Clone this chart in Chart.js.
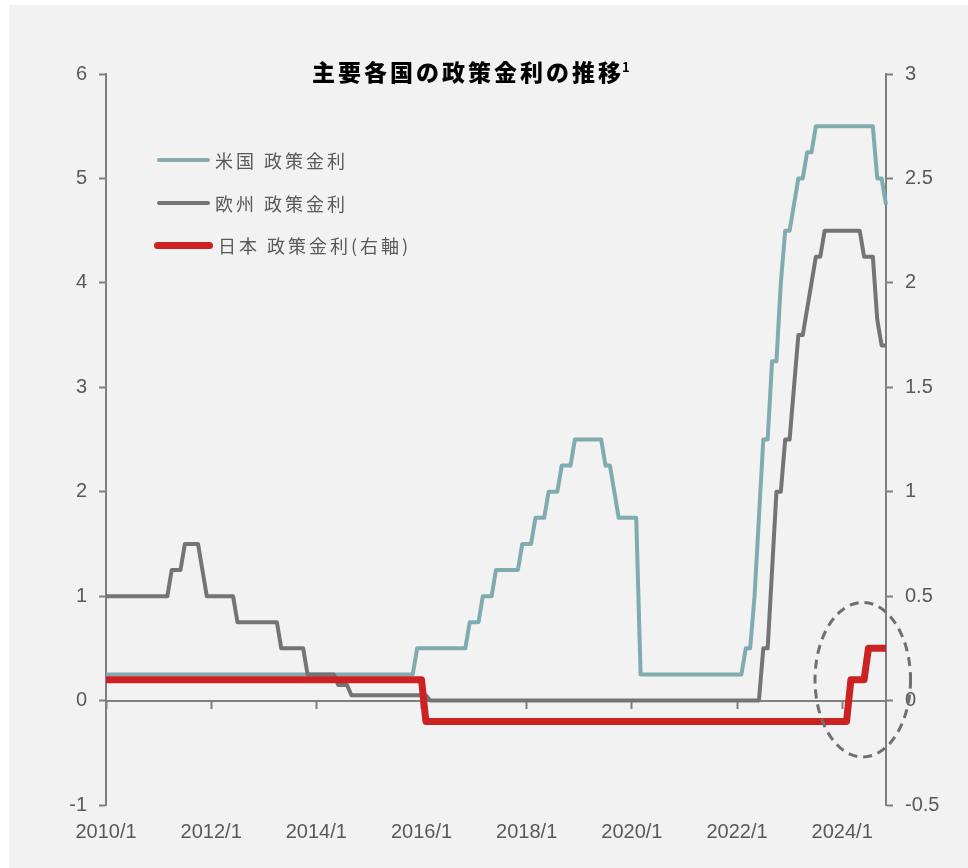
<!DOCTYPE html>
<html lang="ja">
<head>
<meta charset="utf-8">
<script src="https://cdn.jsdelivr.net/npm/chart.js@4.4.1/dist/chart.umd.min.js"></script>
<style>
  html, body { margin: 0; padding: 0; background: #fff; }
  #wrap { position: relative; width: 968px; height: 868px; overflow: hidden; }
  #panel { position: absolute; left: 9px; top: 5px; right: 0; bottom: 0; background: #f2f2f2; }
  #chart { position: absolute; left: 0; top: 0; }
  #title { position: absolute; left: 312px; top: 54px; font: 900 23px "Noto Sans CJK JP"; letter-spacing: 3px; color: #000; white-space: nowrap; }
  #title sup { font-size: 13px; font-weight: 700; letter-spacing: 0; vertical-align: 9px; line-height: 0; margin-left: -2px; }
  #legend { position: absolute; left: 154px; top: 139px; font: 18px "Noto Sans CJK JP"; color: #595959; letter-spacing: 3px; }
  .row { display: flex; align-items: center; height: 42.5px; white-space: nowrap; }
  .swatch { border-radius: 4px; margin-right: 5px; }
</style>
</head>
<body>
<div id="wrap">
  <div id="panel"></div>
  <canvas id="chart" width="968" height="868"></canvas>
  <div id="title">主要各国の政策金利の推移<sup>1</sup></div>
  <div id="legend"></div>
</div>
<script>
// monthly labels, 2010/1 .. 2024/11
const months = [
  "2010/1","2010/2","2010/3","2010/4","2010/5","2010/6","2010/7","2010/8","2010/9","2010/10","2010/11","2010/12",
  "2011/1","2011/2","2011/3","2011/4","2011/5","2011/6","2011/7","2011/8","2011/9","2011/10","2011/11","2011/12",
  "2012/1","2012/2","2012/3","2012/4","2012/5","2012/6","2012/7","2012/8","2012/9","2012/10","2012/11","2012/12",
  "2013/1","2013/2","2013/3","2013/4","2013/5","2013/6","2013/7","2013/8","2013/9","2013/10","2013/11","2013/12",
  "2014/1","2014/2","2014/3","2014/4","2014/5","2014/6","2014/7","2014/8","2014/9","2014/10","2014/11","2014/12",
  "2015/1","2015/2","2015/3","2015/4","2015/5","2015/6","2015/7","2015/8","2015/9","2015/10","2015/11","2015/12",
  "2016/1","2016/2","2016/3","2016/4","2016/5","2016/6","2016/7","2016/8","2016/9","2016/10","2016/11","2016/12",
  "2017/1","2017/2","2017/3","2017/4","2017/5","2017/6","2017/7","2017/8","2017/9","2017/10","2017/11","2017/12",
  "2018/1","2018/2","2018/3","2018/4","2018/5","2018/6","2018/7","2018/8","2018/9","2018/10","2018/11","2018/12",
  "2019/1","2019/2","2019/3","2019/4","2019/5","2019/6","2019/7","2019/8","2019/9","2019/10","2019/11","2019/12",
  "2020/1","2020/2","2020/3","2020/4","2020/5","2020/6","2020/7","2020/8","2020/9","2020/10","2020/11","2020/12",
  "2021/1","2021/2","2021/3","2021/4","2021/5","2021/6","2021/7","2021/8","2021/9","2021/10","2021/11","2021/12",
  "2022/1","2022/2","2022/3","2022/4","2022/5","2022/6","2022/7","2022/8","2022/9","2022/10","2022/11","2022/12",
  "2023/1","2023/2","2023/3","2023/4","2023/5","2023/6","2023/7","2023/8","2023/9","2023/10","2023/11","2023/12",
  "2024/1","2024/2","2024/3","2024/4","2024/5","2024/6","2024/7","2024/8","2024/9","2024/10","2024/11"
];

const usRate = [
  0.25,0.25,0.25,0.25,0.25,0.25,0.25,0.25,0.25,0.25,0.25,0.25,
  0.25,0.25,0.25,0.25,0.25,0.25,0.25,0.25,0.25,0.25,0.25,0.25,
  0.25,0.25,0.25,0.25,0.25,0.25,0.25,0.25,0.25,0.25,0.25,0.25,
  0.25,0.25,0.25,0.25,0.25,0.25,0.25,0.25,0.25,0.25,0.25,0.25,
  0.25,0.25,0.25,0.25,0.25,0.25,0.25,0.25,0.25,0.25,0.25,0.25,
  0.25,0.25,0.25,0.25,0.25,0.25,0.25,0.25,0.25,0.25,0.25,0.5,
  0.5,0.5,0.5,0.5,0.5,0.5,0.5,0.5,0.5,0.5,0.5,0.75,
  0.75,0.75,1.0,1.0,1.0,1.25,1.25,1.25,1.25,1.25,1.25,1.5,
  1.5,1.5,1.75,1.75,1.75,2.0,2.0,2.0,2.25,2.25,2.25,2.5,
  2.5,2.5,2.5,2.5,2.5,2.5,2.25,2.25,2.0,1.75,1.75,1.75,
  1.75,1.75,0.25,0.25,0.25,0.25,0.25,0.25,0.25,0.25,0.25,0.25,
  0.25,0.25,0.25,0.25,0.25,0.25,0.25,0.25,0.25,0.25,0.25,0.25,
  0.25,0.25,0.5,0.5,1.0,1.75,2.5,2.5,3.25,3.25,4.0,4.5,
  4.5,4.75,5.0,5.0,5.25,5.25,5.5,5.5,5.5,5.5,5.5,5.5,
  5.5,5.5,5.5,5.5,5.5,5.5,5.5,5.5,5.0,5.0,4.75
];

const euRate = [
  1.0,1.0,1.0,1.0,1.0,1.0,1.0,1.0,1.0,1.0,1.0,1.0,
  1.0,1.0,1.0,1.25,1.25,1.25,1.5,1.5,1.5,1.5,1.25,1.0,
  1.0,1.0,1.0,1.0,1.0,1.0,0.75,0.75,0.75,0.75,0.75,0.75,
  0.75,0.75,0.75,0.75,0.5,0.5,0.5,0.5,0.5,0.5,0.25,0.25,
  0.25,0.25,0.25,0.25,0.25,0.15,0.15,0.15,0.05,0.05,0.05,0.05,
  0.05,0.05,0.05,0.05,0.05,0.05,0.05,0.05,0.05,0.05,0.05,0.05,
  0.05,0.05,0,0,0,0,0,0,0,0,0,0,
  0,0,0,0,0,0,0,0,0,0,0,0,
  0,0,0,0,0,0,0,0,0,0,0,0,
  0,0,0,0,0,0,0,0,0,0,0,0,
  0,0,0,0,0,0,0,0,0,0,0,0,
  0,0,0,0,0,0,0,0,0,0,0,0,
  0,0,0,0,0,0,0.5,0.5,1.25,2.0,2.0,2.5,
  2.5,3.0,3.5,3.5,3.75,4.0,4.25,4.25,4.5,4.5,4.5,4.5,
  4.5,4.5,4.5,4.5,4.5,4.25,4.25,4.25,3.65,3.4,3.4
];

// right axis
const jpRate = [
  0.1,0.1,0.1,0.1,0.1,0.1,0.1,0.1,0.1,0.1,0.1,0.1,
  0.1,0.1,0.1,0.1,0.1,0.1,0.1,0.1,0.1,0.1,0.1,0.1,
  0.1,0.1,0.1,0.1,0.1,0.1,0.1,0.1,0.1,0.1,0.1,0.1,
  0.1,0.1,0.1,0.1,0.1,0.1,0.1,0.1,0.1,0.1,0.1,0.1,
  0.1,0.1,0.1,0.1,0.1,0.1,0.1,0.1,0.1,0.1,0.1,0.1,
  0.1,0.1,0.1,0.1,0.1,0.1,0.1,0.1,0.1,0.1,0.1,0.1,
  0.1,-0.1,-0.1,-0.1,-0.1,-0.1,-0.1,-0.1,-0.1,-0.1,-0.1,-0.1,
  -0.1,-0.1,-0.1,-0.1,-0.1,-0.1,-0.1,-0.1,-0.1,-0.1,-0.1,-0.1,
  -0.1,-0.1,-0.1,-0.1,-0.1,-0.1,-0.1,-0.1,-0.1,-0.1,-0.1,-0.1,
  -0.1,-0.1,-0.1,-0.1,-0.1,-0.1,-0.1,-0.1,-0.1,-0.1,-0.1,-0.1,
  -0.1,-0.1,-0.1,-0.1,-0.1,-0.1,-0.1,-0.1,-0.1,-0.1,-0.1,-0.1,
  -0.1,-0.1,-0.1,-0.1,-0.1,-0.1,-0.1,-0.1,-0.1,-0.1,-0.1,-0.1,
  -0.1,-0.1,-0.1,-0.1,-0.1,-0.1,-0.1,-0.1,-0.1,-0.1,-0.1,-0.1,
  -0.1,-0.1,-0.1,-0.1,-0.1,-0.1,-0.1,-0.1,-0.1,-0.1,-0.1,-0.1,
  -0.1,-0.1,0.1,0.1,0.1,0.1,0.25,0.25,0.25,0.25,0.25
];

const seriesNames = ["米国 政策金利", "欧州 政策金利", "日本 政策金利(右軸)"];

// dashed circle around the recent Japanese hikes (month index / right axis units)
const highlight = { from: 161.8, to: 183.6, low: -0.27, high: 0.47 };

const axisColor = "#7f7f7f";
const tickFont = { family: "Liberation Sans, Arial", size: 20 };

const highlightPlugin = {
  id: "highlight",
  afterDatasetsDraw(chart) {
    const { ctx, scales } = chart;
    const x0 = scales.x.getPixelForValue(highlight.from);
    const x1 = scales.x.getPixelForValue(highlight.to);
    const y0 = scales.y1.getPixelForValue(highlight.high);
    const y1 = scales.y1.getPixelForValue(highlight.low);
    ctx.save();
    ctx.beginPath();
    ctx.ellipse((x0 + x1) / 2, (y0 + y1) / 2, (x1 - x0) / 2, (y1 - y0) / 2, 0, 0, Math.PI * 2);
    ctx.strokeStyle = "#6f6f6f";
    ctx.lineWidth = 3;
    ctx.setLineDash([9, 6]);
    ctx.stroke();
    ctx.restore();
  }
};

const chart = new Chart(document.getElementById("chart"), {
  type: "line",
  data: {
    labels: months,
    datasets: [
      { label: seriesNames[0], data: usRate, yAxisID: "y", borderColor: "#7fabb1", borderWidth: 4, order: 2 },
      { label: seriesNames[1], data: euRate, yAxisID: "y", borderColor: "#747474", borderWidth: 4, order: 1 },
      { label: seriesNames[2], data: jpRate, yAxisID: "y1", borderColor: "#cc2222", borderWidth: 7, order: 0 },
    ],
  },
  options: {
    responsive: false,
    animation: false,
    layout: { padding: { top: 74, left: 0, right: 0, bottom: 0 } },
    elements: { point: { radius: 0 }, line: { tension: 0, borderJoinStyle: "round" } },
    plugins: { legend: { display: false }, tooltip: { enabled: false }, title: { display: false } },
    scales: {
      x: {
        type: "category",
        position: { y: 0 },
        ticks: { display: false },
        grid: {
          drawOnChartArea: false,
          tickLength: 7,
          tickWidth: 2,
          color: (c) => (c.index % 24 === 0 ? axisColor : "rgba(0,0,0,0)"),
        },
        border: { color: axisColor, width: 2 },
        afterFit: (s) => { s.height = 0; },
      },
      x2: {
        type: "category",
        position: "bottom",
        grid: { display: false, drawTicks: false },
        border: { display: false },
        ticks: {
          autoSkip: false,
          maxRotation: 0,
          minRotation: 0,
          padding: 15,
          color: "#595959",
          font: tickFont,
          callback: function (v, i) { return i % 24 === 0 ? this.getLabelForValue(v) : ""; },
        },
        afterFit: (s) => { s.height = 63; },
      },
      y: {
        position: "left",
        min: -1,
        max: 6,
        ticks: { stepSize: 1, padding: 12, color: "#595959", font: tickFont },
        grid: { drawOnChartArea: false, tickLength: 7, tickWidth: 2, color: axisColor },
        border: { color: axisColor, width: 2 },
        afterFit: (s) => { s.width = 106; },
      },
      y1: {
        position: "right",
        min: -0.5,
        max: 3,
        ticks: { stepSize: 0.5, padding: 12, color: "#595959", font: tickFont, callback: (v) => String(v) },
        grid: { drawOnChartArea: false, tickLength: 7, tickWidth: 2, color: axisColor },
        border: { color: axisColor, width: 2 },
        afterFit: (s) => { s.width = 82; },
      },
    },
  },
  plugins: [highlightPlugin],
});

// legend drawn in HTML from the datasets
const legendBox = document.getElementById("legend");
chart.data.datasets.forEach((ds) => {
  const row = document.createElement("div");
  row.className = "row";
  const sw = document.createElement("span");
  sw.className = "swatch";
  sw.style.background = ds.borderColor;
  sw.style.height = ds.borderWidth + "px";
  sw.style.width = ds.borderWidth > 5 ? "59px" : "53px";
  sw.style.marginLeft = ds.borderWidth > 5 ? "0" : "3px";
  const txt = document.createElement("span");
  txt.textContent = ds.label;
  row.appendChild(sw);
  row.appendChild(txt);
  legendBox.appendChild(row);
});
</script>
</body>
</html>
